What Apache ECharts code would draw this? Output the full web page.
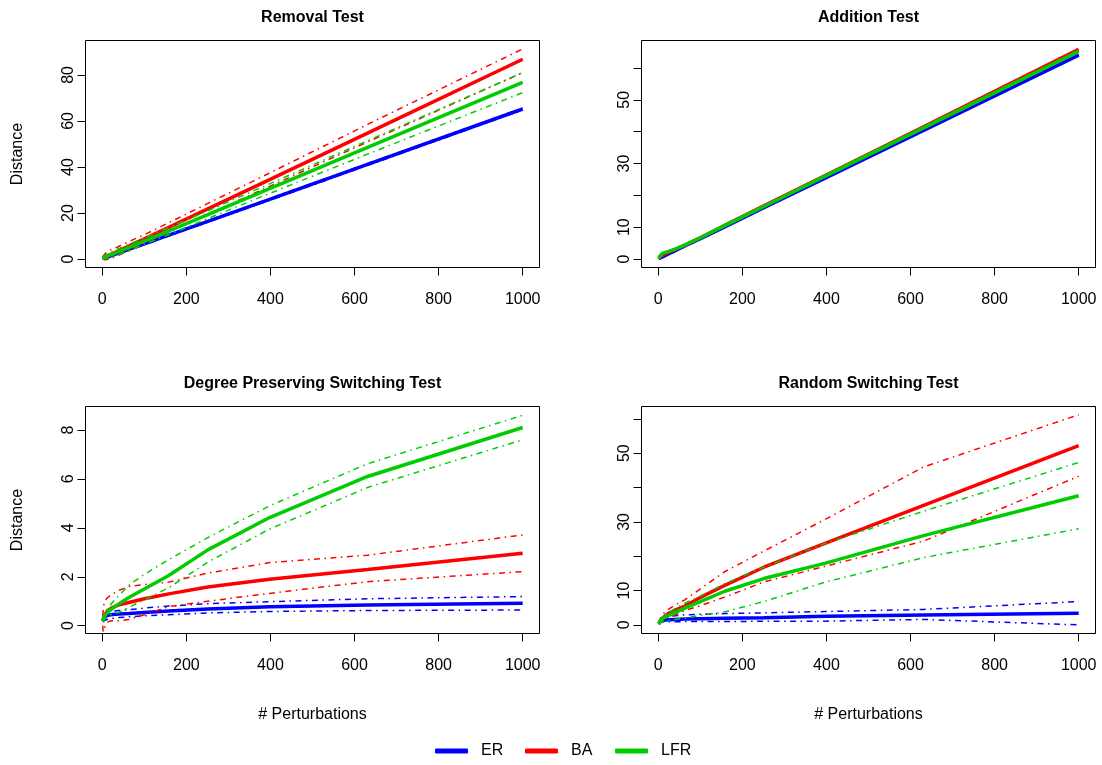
<!DOCTYPE html>
<html>
<head>
<meta charset="utf-8">
<title>Perturbation tests</title>
<script src="https://cdn.jsdelivr.net/npm/echarts@6/dist/echarts.min.js"></script>
<style>
  html, body { margin: 0; padding: 0; background: #fff; }
  #chart { width: 1102px; height: 765px; }
</style>
</head>
<body>
<div id="chart"></div>
<script>
// number of perturbations at which the distance was measured
const perturbations = [1, 2, 4, 6, 10, 16, 25, 40, 63, 100, 158, 251, 398, 631, 1000];
const xTicks = [0, 200, 400, 600, 800, 1000];

// Removal Test
const removalER   = [0.2, 0.3, 0.4, 0.5, 0.8, 1.1, 1.7, 2.7, 4.2, 6.6, 10.4, 16.4, 25.9, 41.1, 65.2];
const removalERHi = [0.5, 0.6, 0.8, 0.9, 1.2, 1.5, 2.1, 3.1, 4.6, 7.0, 10.8, 16.8, 26.3, 41.5, 65.6];
const removalERLo = [0.0, 0.1, 0.1, 0.2, 0.4, 0.7, 1.3, 2.3, 3.8, 6.2, 10.0, 16.0, 25.5, 40.7, 64.8];
const removalBA   = [0.3, 0.5, 0.7, 0.9, 1.2, 1.7, 2.4, 3.7, 5.6, 8.8, 13.8, 21.8, 34.5, 54.7, 86.8];
const removalBAHi = [0.8, 1.2, 1.8, 2.3, 3.0, 3.8, 4.3, 5.6, 7.6, 10.6, 15.8, 24.2, 37.4, 58.5, 91.3];
const removalBALo = [0.0, 0.0, -0.2, -0.3, -0.3, 0.0, 0.6, 1.8, 3.6, 7.0, 11.8, 19.4, 31.6, 50.9, 81.0];
const removalLFR   = [0.3, 0.5, 0.7, 0.9, 1.2, 1.6, 2.2, 3.3, 5.0, 7.8, 12.2, 19.3, 30.6, 48.5, 76.8];
const removalLFRHi = [0.6, 0.9, 1.3, 1.6, 2.0, 2.6, 3.4, 4.6, 6.4, 9.2, 13.7, 21.0, 32.7, 51.4, 81.0];
const removalLFRLo = [0.0, 0.1, 0.1, 0.2, 0.4, 0.6, 1.0, 2.0, 3.6, 6.4, 10.7, 17.6, 28.5, 45.6, 72.3];

// Addition Test
const additionER   = [0.1, 0.2, 0.3, 0.45, 0.7, 1.1, 1.7, 2.6, 4.1, 6.4, 10.1, 16.1, 25.5, 40.4, 64.0];
const additionERHi = [0.3, 0.4, 0.5, 0.65, 0.9, 1.3, 1.9, 2.8, 4.3, 6.6, 10.3, 16.3, 25.7, 40.6, 64.2];
const additionERLo = [0.0, 0.0, 0.1, 0.25, 0.5, 0.9, 1.5, 2.4, 3.9, 6.2, 9.9, 15.9, 25.3, 40.2, 63.8];
const additionBA   = [0.2, 0.4, 0.7, 0.9, 1.3, 1.7, 2.2, 3.0, 4.4, 6.7, 10.6, 16.7, 26.3, 41.5, 65.8];
const additionBAHi = [0.4, 0.6, 0.9, 1.1, 1.5, 1.9, 2.4, 3.2, 4.6, 6.9, 10.8, 16.9, 26.5, 41.7, 66.0];
const additionBALo = [0.0, 0.2, 0.5, 0.7, 1.1, 1.5, 2.0, 2.8, 4.2, 6.5, 10.4, 16.5, 26.1, 41.3, 65.6];
const additionLFR   = [0.3, 0.6, 1.0, 1.3, 1.8, 2.1, 2.4, 3.1, 4.4, 6.7, 10.5, 16.5, 26.1, 41.2, 65.2];
const additionLFRHi = [0.5, 0.8, 1.2, 1.5, 2.0, 2.3, 2.6, 3.3, 4.6, 6.9, 10.7, 16.7, 26.3, 41.4, 65.4];
const additionLFRLo = [0.1, 0.4, 0.8, 1.1, 1.6, 1.9, 2.2, 2.9, 4.2, 6.5, 10.3, 16.3, 25.9, 41.0, 65.0];

// Degree Preserving Switching Test
const degreeER   = [0.2, 0.25, 0.3, 0.35, 0.4, 0.43, 0.46, 0.48, 0.5, 0.54, 0.6, 0.68, 0.77, 0.85, 0.92];
const degreeERHi = [0.25, 0.35, 0.45, 0.5, 0.55, 0.58, 0.6, 0.62, 0.65, 0.72, 0.8, 0.9, 0.98, 1.1, 1.19];
const degreeERLo = [0.15, 0.15, 0.2, 0.22, 0.25, 0.28, 0.3, 0.33, 0.36, 0.4, 0.45, 0.52, 0.58, 0.62, 0.64];
const degreeBA   = [0.2, 0.18, 0.35, 0.45, 0.55, 0.65, 0.75, 0.85, 0.95, 1.1, 1.3, 1.58, 1.9, 2.3, 2.96];
const degreeBAHi = [0.4, 0.6, 0.9, 1.0, 1.1, 1.2, 1.3, 1.45, 1.6, 1.68, 1.78, 2.15, 2.58, 2.88, 3.71];
const degreeBALo = [0.0, -0.25, -0.2, -0.05, 0.1, 0.18, 0.2, 0.2, 0.25, 0.45, 0.78, 1.0, 1.32, 1.8, 2.21];
const degreeLFR   = [0.2, 0.27, 0.35, 0.42, 0.5, 0.6, 0.72, 0.9, 1.15, 1.5, 2.05, 3.1, 4.42, 6.1, 8.1];
const degreeLFRHi = [0.25, 0.35, 0.45, 0.55, 0.65, 0.78, 0.97, 1.25, 1.65, 2.1, 2.7, 3.6, 4.9, 6.62, 8.6];
const degreeLFRLo = [0.15, 0.2, 0.25, 0.3, 0.35, 0.42, 0.47, 0.55, 0.75, 1.05, 1.55, 2.6, 3.95, 5.65, 7.6];

// Random Switching Test
const randomER   = [0.3, 0.6, 0.9, 1.1, 1.3, 1.4, 1.5, 1.6, 1.7, 1.8, 1.95, 2.1, 2.5, 2.9, 3.4];
const randomERHi = [0.4, 0.8, 1.2, 1.5, 1.8, 2.1, 2.4, 2.7, 2.9, 3.1, 3.3, 3.5, 3.9, 4.5, 6.8];
const randomERLo = [0.2, 0.4, 0.6, 0.7, 0.8, 0.85, 0.9, 0.9, 1.0, 1.0, 1.0, 1.05, 1.1, 1.6, 0.0];
const randomBA   = [0.4, 0.7, 1.1, 1.5, 2.0, 2.6, 3.4, 4.3, 5.5, 8.0, 11.5, 16.8, 23.8, 34.8, 52.2];
const randomBAHi = [0.6, 1.0, 1.6, 2.2, 3.0, 3.8, 4.6, 5.8, 7.3, 10.5, 15.5, 21.5, 30.8, 46.0, 61.2];
const randomBALo = [0.2, 0.4, 0.6, 0.8, 1.0, 1.4, 2.2, 2.9, 4.2, 5.6, 8.1, 12.5, 17.1, 24.4, 43.3];
const randomLFR   = [0.4, 0.6, 1.0, 1.3, 1.8, 2.3, 2.8, 3.6, 4.9, 6.8, 9.8, 13.5, 18.0, 26.0, 37.6];
const randomLFRHi = [0.5, 0.8, 1.3, 1.8, 2.3, 3.0, 3.6, 4.8, 6.3, 8.4, 12.0, 16.8, 23.8, 33.1, 47.3];
const randomLFRLo = [0.2, 0.3, 0.5, 0.7, 0.9, 1.1, 1.3, 1.6, 2.0, 2.8, 3.8, 6.8, 12.5, 19.6, 28.0];

const FONT = "'Liberation Sans', Arial, Helvetica, sans-serif";
const colors = { ER: '#0000ff', BA: '#ff0000', LFR: '#00cd00' };

const panels = [
  {
    title: 'Removal Test', grid: [85.5, 40.5], yMin: -3.65, yMax: 94.95,
    yTicks: [0, 20, 40, 60, 80], yLabels: [0, 20, 40, 60, 80], yName: 'Distance', xName: '',
    lines: { ER: [removalER, removalERHi, removalERLo], BA: [removalBA, removalBAHi, removalBALo], LFR: [removalLFR, removalLFRHi, removalLFRLo] }
  },
  {
    title: 'Addition Test', grid: [641.5, 40.5], yMin: -2.64, yMax: 68.6,
    yTicks: [0, 10, 20, 30, 40, 50, 60], yLabels: [0, 10, 30, 50], yName: '', xName: '',
    lines: { ER: [additionER, additionERHi, additionERLo], BA: [additionBA, additionBAHi, additionBALo], LFR: [additionLFR, additionLFRHi, additionLFRLo] }
  },
  {
    title: 'Degree Preserving Switching Test', grid: [85.5, 406.5], yMin: -0.32, yMax: 8.96,
    yTicks: [0, 2, 4, 6, 8], yLabels: [0, 2, 4, 6, 8], yName: 'Distance', xName: '# Perturbations',
    lines: { ER: [degreeER, degreeERHi, degreeERLo], BA: [degreeBA, degreeBAHi, degreeBALo], LFR: [degreeLFR, degreeLFRHi, degreeLFRLo] }
  },
  {
    title: 'Random Switching Test', grid: [641.5, 406.5], yMin: -2.5, yMax: 63.6,
    yTicks: [0, 10, 20, 30, 40, 50, 60], yLabels: [0, 10, 30, 50], yName: '', xName: '# Perturbations',
    lines: { ER: [randomER, randomERHi, randomERLo], BA: [randomBA, randomBAHi, randomBALo], LFR: [randomLFR, randomLFRHi, randomLFRLo] }
  }
];

const PW = 454, PH = 227;

const toPairs = (arr) => perturbations.map((x, i) => [x, arr[i]]);
const plain = (v) => String(v);

const grids = [], xAxes = [], yAxes = [], series = [], graphics = [];

panels.forEach((p, i) => {
  grids.push({
    left: p.grid[0], top: p.grid[1], width: PW, height: PH,
    show: true, borderColor: '#000', borderWidth: 1, backgroundColor: 'transparent'
  });
  xAxes.push({
    type: 'value', gridIndex: i, min: -40, max: 1040, position: 'bottom',
    axisLine: { show: false, onZero: false },
    splitLine: { show: false },
    axisTick: { show: true, length: 8, customValues: xTicks, lineStyle: { color: '#000', width: 1 } },
    axisLabel: { customValues: xTicks, formatter: plain, color: '#000', fontSize: 16, fontFamily: FONT, margin: 24 },
    name: p.xName, nameLocation: 'middle', nameGap: 73,
    nameTextStyle: { color: '#000', fontSize: 16, fontFamily: FONT }
  });
  yAxes.push({
    type: 'value', gridIndex: i, min: p.yMin, max: p.yMax, position: 'left',
    axisLine: { show: false, onZero: false },
    splitLine: { show: false },
    axisTick: { show: true, length: 8, customValues: p.yTicks, lineStyle: { color: '#000', width: 1 } },
    axisLabel: { customValues: p.yLabels, formatter: plain, rotate: 90, color: '#000', fontSize: 16, fontFamily: FONT, margin: 9 },
    name: p.yName, nameLocation: 'middle', nameGap: 60,
    nameTextStyle: { color: '#000', fontSize: 16, fontFamily: FONT }
  });
  graphics.push({
    type: 'text', x: p.grid[0] + PW / 2, y: p.grid[1] - 23,
    style: { text: p.title, fill: '#000', font: 'bold 16px ' + FONT, align: 'center', verticalAlign: 'middle' }
  });

  ['ER', 'BA', 'LFR'].forEach((net) => {
    const [mean, hi, lo] = p.lines[net];
    series.push({
      type: 'line', name: net, xAxisIndex: i, yAxisIndex: i,
      data: toPairs(mean), symbol: 'none', showSymbol: false, color: colors[net],
      lineStyle: { color: colors[net], width: 3.5 }, emphasis: { disabled: true }
    });
    [hi, lo].forEach((band) => {
      series.push({
        type: 'line', name: net + ' sd', xAxisIndex: i, yAxisIndex: i,
        data: toPairs(band), symbol: 'none', showSymbol: false, color: colors[net],
        lineStyle: { color: colors[net], width: 1.5, type: [6, 4.5, 1.5, 4.5] }, emphasis: { disabled: true }
      });
    });
  });
});

const legendAt = (name, left) => ({
  data: [name], left: left, top: 743, padding: 0, icon: 'roundRect', itemWidth: 33, itemHeight: 5,
  selectedMode: false,
  textStyle: { color: '#000', fontSize: 16, fontFamily: FONT, padding: [0, 0, 0, 8] }
});

const chart = echarts.init(document.getElementById('chart'));
chart.setOption({
  animation: false,
  backgroundColor: '#fff',
  grid: grids,
  xAxis: xAxes,
  yAxis: yAxes,
  legend: [legendAt('ER', 435), legendAt('BA', 525), legendAt('LFR', 615)],
  graphic: graphics,
  series: series
});
</script>
</body>
</html>
